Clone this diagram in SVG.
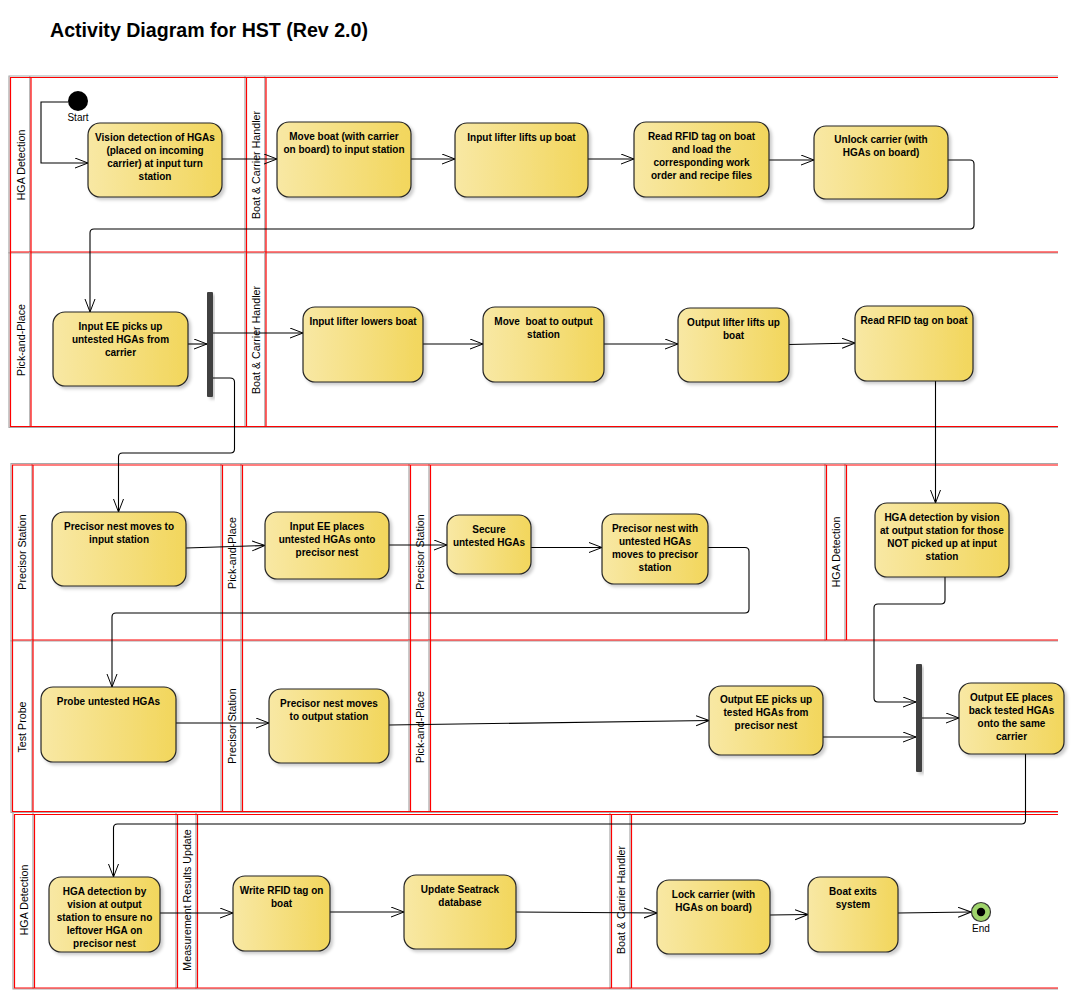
<svg xmlns="http://www.w3.org/2000/svg" width="1074" height="998" viewBox="0 0 1074 998">
<style>
.bg{fill:#fff}
.title{font-family:"Liberation Sans",Arial,sans-serif;font-weight:bold;font-size:19.6px;fill:#000}
.gl{fill:none;stroke:#a8a8a8;stroke-width:1.2}
.rl{fill:none;stroke:#ff0000;stroke-width:1.2}
.lane{font-family:"Liberation Sans",Arial,sans-serif;font-size:10.7px;fill:#000;text-anchor:middle}
.node rect{fill:url(#ng);stroke:#262626;stroke-width:1.2;filter:url(#sh)}
.nt{font-family:"Liberation Sans",Arial,sans-serif;font-weight:bold;font-size:10px;fill:#000;text-anchor:middle}
.bar{fill:#404040;filter:url(#sh)}
.lbl{font-family:"Liberation Sans",Arial,sans-serif;font-size:10px;fill:#000;text-anchor:middle}
#connectors path{fill:none;stroke:#000;stroke-width:1.1;marker-end:url(#arr)}
</style>
<defs>
<linearGradient id="ng" x1="0" y1="0" x2="1" y2="0">
<stop offset="0" stop-color="#f8e8a4"/>
<stop offset="1" stop-color="#f2d65c"/>
</linearGradient>
<filter id="sh" x="-10%" y="-10%" width="130%" height="130%">
<feDropShadow dx="2.5" dy="2.5" stdDeviation="1.5" flood-color="#000" flood-opacity="0.2"/>
</filter>
<marker id="arr" markerUnits="userSpaceOnUse" markerWidth="14" markerHeight="12" refX="13" refY="5.5" orient="auto">
<path d="M0,0.5 L13,5.5 L0,10.5" fill="none" stroke="#000" stroke-width="1"/>
</marker>
</defs>
<rect class="bg" x="0" y="0" width="1074" height="998"/>
<text class="title" x="50" y="37">Activity Diagram for HST (Rev 2.0)</text>

<g id="lanes">
<!-- Row 1 -->
<path class="gl" d="M1058,76 H9 V253 H1058 M245,76 V253 M29.8,76 V253 M264.8,76 V253"/>
<path class="rl" d="M1058,77.5 H10.5 V252 H1058 M246.5,77.5 V252 M31,77.5 V252 M266,77.5 V252"/>
<text class="lane" transform="translate(25,165) rotate(-90)">HGA Detection</text>
<text class="lane" transform="translate(260,165) rotate(-90)">Boat &amp; Carrier Handler</text>
<!-- Row 2 -->
<path class="gl" d="M1058,427.5 H9 V252 M245,252 V427.5 M29.8,252 V427.5 M264.8,252 V427.5"/>
<path class="rl" d="M10.5,252 V426.5 H1058 M246.5,252 V426.5 M31,252 V426.5 M266,252 V426.5"/>
<text class="lane" transform="translate(25,340) rotate(-90)">Pick-and-Place</text>
<text class="lane" transform="translate(260,340) rotate(-90)">Boat &amp; Carrier Handler</text>
<!-- Row 3 -->
<path class="gl" d="M1058,463.5 H11 V641 H1058 M221,463.5 V641 M409,463.5 V641 M825,463.5 V641 M32,463.5 V641 M241,463.5 V641 M429,463.5 V641 M845,463.5 V641"/>
<path class="rl" d="M1058,465 H12.5 V640 H1058 M222.5,465 V640 M410.5,465 V640 M826.5,465 V640 M33,465 V640 M242.5,465 V640 M430.5,465 V640 M846.5,465 V640"/>
<text class="lane" transform="translate(26,552) rotate(-90)">Precisor Station</text>
<text class="lane" transform="translate(236,553) rotate(-90)">Pick-and-Place</text>
<text class="lane" transform="translate(424,552) rotate(-90)">Precisor Station</text>
<text class="lane" transform="translate(840,552) rotate(-90)">HGA Detection</text>
<!-- Row 4 -->
<path class="gl" d="M1058,812.5 H11 V640 M221,640 V812.5 M409,640 V812.5 M32,640 V812.5 M241,640 V812.5 M429,640 V812.5"/>
<path class="rl" d="M12.5,640 V811.5 H1058 M222.5,640 V811.5 M410.5,640 V811.5 M33,640 V811.5 M242.5,640 V811.5 M430.5,640 V811.5"/>
<text class="lane" transform="translate(26,727) rotate(-90)">Test Probe</text>
<text class="lane" transform="translate(236,726) rotate(-90)">Precisor Station</text>
<text class="lane" transform="translate(424,727) rotate(-90)">Pick-and-Place</text>
<!-- Row 5 -->
<path class="gl" d="M13,813 V989 H1058 M176,813 V989 M610,813 V989 M33,813 V989 M196,813 V989 M630,813 V989"/>
<path class="rl" d="M1058,814.5 H14.5 V988 H1058 M177.5,814.5 V988 M611.5,814.5 V988 M34.5,814.5 V988 M197.5,814.5 V988 M631.5,814.5 V988"/>
<text class="lane" transform="translate(28,900) rotate(-90)">HGA Detection</text>
<text class="lane" transform="translate(191,900) rotate(-90)">Measurement Results Update</text>
<text class="lane" transform="translate(625,900) rotate(-90)">Boat &amp; Carrier Handler</text>
</g>

<g id="connectors">
<path d="M68,102 H41 V163 H88"/>
<path d="M222,159 H277"/>
<path d="M411,159 H455"/>
<path d="M588,159 H634"/>
<path d="M769,160 H814"/>
<path d="M948,160 H970 Q974,160 974,164 V225 Q974,229 970,229 H94 Q90,229 90,233 V312"/>
<path d="M188,344 H207"/>
<path d="M213,333 H303"/>
<path d="M213,378 H230 Q234.5,378 234.5,382 V449 Q234.5,453 230.5,453 H122.5 Q118.5,453 118.5,457 V512"/>
<path d="M423,344 H483"/>
<path d="M604,344 H678"/>
<path d="M789,344.5 L855,343"/>
<path d="M935.5,381 V503"/>
<path d="M186,548 L265,545.5"/>
<path d="M389,545 H447"/>
<path d="M531,547.5 H602"/>
<path d="M708,547.5 H745 Q749,547.5 749,551.5 V609 Q749,613 745,613 H116 Q112,613 112,617 V687"/>
<path d="M945,577 V600 Q945,604 941,604 H878 Q874,604 874,608 V698 Q874,702 878,702 H916"/>
<path d="M176,723 H269"/>
<path d="M389,725 L709,720.5"/>
<path d="M823,737 H916"/>
<path d="M922,718 H959"/>
<path d="M1025.5,754 V820 Q1025.5,824 1021.5,824 H117.5 Q113.5,824 113.5,828 V877"/>
<path d="M160,913 H233"/>
<path d="M330,912 H404"/>
<path d="M516,912 L657,913"/>
<path d="M770,915 L808,914.5"/>
<path d="M898,913 L971,912"/>
</g>

<g id="start"><circle cx="78" cy="101" r="10" fill="#000"/><text class="lbl" x="78" y="121">Start</text></g>
<g id="end"><circle cx="981" cy="912" r="9.5" fill="#9fd46b" stroke="#333" stroke-width="1.2"/><circle cx="981" cy="912" r="4.2" fill="#000"/><text class="lbl" x="981" y="932">End</text></g>

<g id="n1" class="node"><rect x="88" y="123" width="134" height="74" rx="12"/><text class="nt" y="141"><tspan x="155">Vision detection of HGAs</tspan><tspan x="155" dy="13">(placed on incoming</tspan><tspan x="155" dy="13">carrier) at input turn</tspan><tspan x="155" dy="13">station</tspan></text></g>
<g id="n2" class="node"><rect x="277" y="122" width="134" height="75" rx="12"/><text class="nt" y="140"><tspan x="344">Move boat (with carrier</tspan><tspan x="344" dy="13">on board) to input station</tspan></text></g>
<g id="n3" class="node"><rect x="455" y="123" width="133" height="74" rx="12"/><text class="nt" y="141"><tspan x="521.5">Input lifter lifts up boat</tspan></text></g>
<g id="n4" class="node"><rect x="634" y="122" width="135" height="75" rx="12"/><text class="nt" y="140"><tspan x="701.5">Read RFID tag on boat</tspan><tspan x="701.5" dy="13">and load the</tspan><tspan x="701.5" dy="13">corresponding work</tspan><tspan x="701.5" dy="13">order and recipe files</tspan></text></g>
<g id="n5" class="node"><rect x="814" y="126" width="134" height="73" rx="12"/><text class="nt" y="143"><tspan x="881">Unlock carrier (with</tspan><tspan x="881" dy="13">HGAs on board)</tspan></text></g>

<g id="n6" class="node"><rect x="53" y="312" width="135" height="74" rx="12"/><text class="nt" y="330"><tspan x="120.5">Input EE picks up</tspan><tspan x="120.5" dy="13">untested HGAs from</tspan><tspan x="120.5" dy="13">carrier</tspan></text></g>
<g id="fork1"><rect class="bar" x="207" y="292" width="6" height="105" rx="1"/></g>
<g id="n7" class="node"><rect x="303" y="307" width="120" height="75" rx="12"/><text class="nt" y="325"><tspan x="363">Input lifter lowers boat</tspan></text></g>
<g id="n8" class="node"><rect x="483" y="307" width="121" height="75" rx="12"/><text class="nt" y="325" xml:space="preserve"><tspan x="543.5">Move  boat to output</tspan><tspan x="543.5" dy="13">station</tspan></text></g>
<g id="n9" class="node"><rect x="678" y="308" width="111" height="74" rx="12"/><text class="nt" y="325.5"><tspan x="733.5">Output lifter lifts up</tspan><tspan x="733.5" dy="13">boat</tspan></text></g>
<g id="n10" class="node"><rect x="855" y="306" width="118" height="75" rx="12"/><text class="nt" y="323.5"><tspan x="914">Read RFID tag on boat</tspan></text></g>

<g id="n11" class="node"><rect x="52" y="512" width="134" height="74" rx="12"/><text class="nt" y="530"><tspan x="119">Precisor nest moves to</tspan><tspan x="119" dy="13">input station</tspan></text></g>
<g id="n12" class="node"><rect x="265" y="512" width="124" height="67" rx="12"/><text class="nt" y="530"><tspan x="327">Input EE places</tspan><tspan x="327" dy="13">untested HGAs onto</tspan><tspan x="327" dy="13">precisor nest</tspan></text></g>
<g id="n13" class="node"><rect x="447" y="515" width="84" height="59" rx="12"/><text class="nt" y="533"><tspan x="489">Secure</tspan><tspan x="489" dy="13">untested HGAs</tspan></text></g>
<g id="n14" class="node"><rect x="602" y="514" width="106" height="70" rx="12"/><text class="nt" y="532"><tspan x="655">Precisor nest with</tspan><tspan x="655" dy="13">untested HGAs</tspan><tspan x="655" dy="13">moves to precisor</tspan><tspan x="655" dy="13">station</tspan></text></g>
<g id="n15" class="node"><rect x="875" y="503" width="134" height="74" rx="12"/><text class="nt" y="521"><tspan x="942">HGA detection by vision</tspan><tspan x="942" dy="13">at output station for those</tspan><tspan x="942" dy="13">NOT picked up at input</tspan><tspan x="942" dy="13">station</tspan></text></g>

<g id="n16" class="node"><rect x="41" y="687" width="135" height="75" rx="12"/><text class="nt" y="705"><tspan x="108.5">Probe untested HGAs</tspan></text></g>
<g id="n17" class="node"><rect x="269" y="689" width="120" height="74" rx="12"/><text class="nt" y="707"><tspan x="329">Precisor nest moves</tspan><tspan x="329" dy="13">to output station</tspan></text></g>
<g id="n18" class="node"><rect x="709" y="686" width="114" height="69" rx="12"/><text class="nt" y="703"><tspan x="766">Output EE picks up</tspan><tspan x="766" dy="13">tested HGAs from</tspan><tspan x="766" dy="13">precisor nest</tspan></text></g>
<g id="join1"><rect class="bar" x="916" y="664" width="6" height="108" rx="1"/></g>
<g id="n19" class="node"><rect x="959" y="683" width="105" height="71" rx="12"/><text class="nt" y="700.5"><tspan x="1011.5">Output EE places</tspan><tspan x="1011.5" dy="13">back tested HGAs</tspan><tspan x="1011.5" dy="13">onto the same</tspan><tspan x="1011.5" dy="13">carrier</tspan></text></g>

<g id="n20" class="node"><rect x="49" y="877" width="111" height="75" rx="12"/><text class="nt" y="895"><tspan x="104.5">HGA detection by</tspan><tspan x="104.5" dy="13">vision at output</tspan><tspan x="104.5" dy="13">station to ensure no</tspan><tspan x="104.5" dy="13">leftover HGA on</tspan><tspan x="104.5" dy="13">precisor nest</tspan></text></g>
<g id="n21" class="node"><rect x="233" y="876" width="97" height="75" rx="12"/><text class="nt" y="894"><tspan x="281.5">Write RFID tag on</tspan><tspan x="281.5" dy="13">boat</tspan></text></g>
<g id="n22" class="node"><rect x="404" y="875" width="112" height="74" rx="12"/><text class="nt" y="893"><tspan x="460">Update Seatrack</tspan><tspan x="460" dy="13">database</tspan></text></g>
<g id="n23" class="node"><rect x="657" y="880" width="113" height="74" rx="12"/><text class="nt" y="898"><tspan x="713.5">Lock carrier (with</tspan><tspan x="713.5" dy="13">HGAs on board)</tspan></text></g>
<g id="n24" class="node"><rect x="808" y="877" width="90" height="75" rx="12"/><text class="nt" y="895"><tspan x="853">Boat exits</tspan><tspan x="853" dy="13">system</tspan></text></g>
</svg>
